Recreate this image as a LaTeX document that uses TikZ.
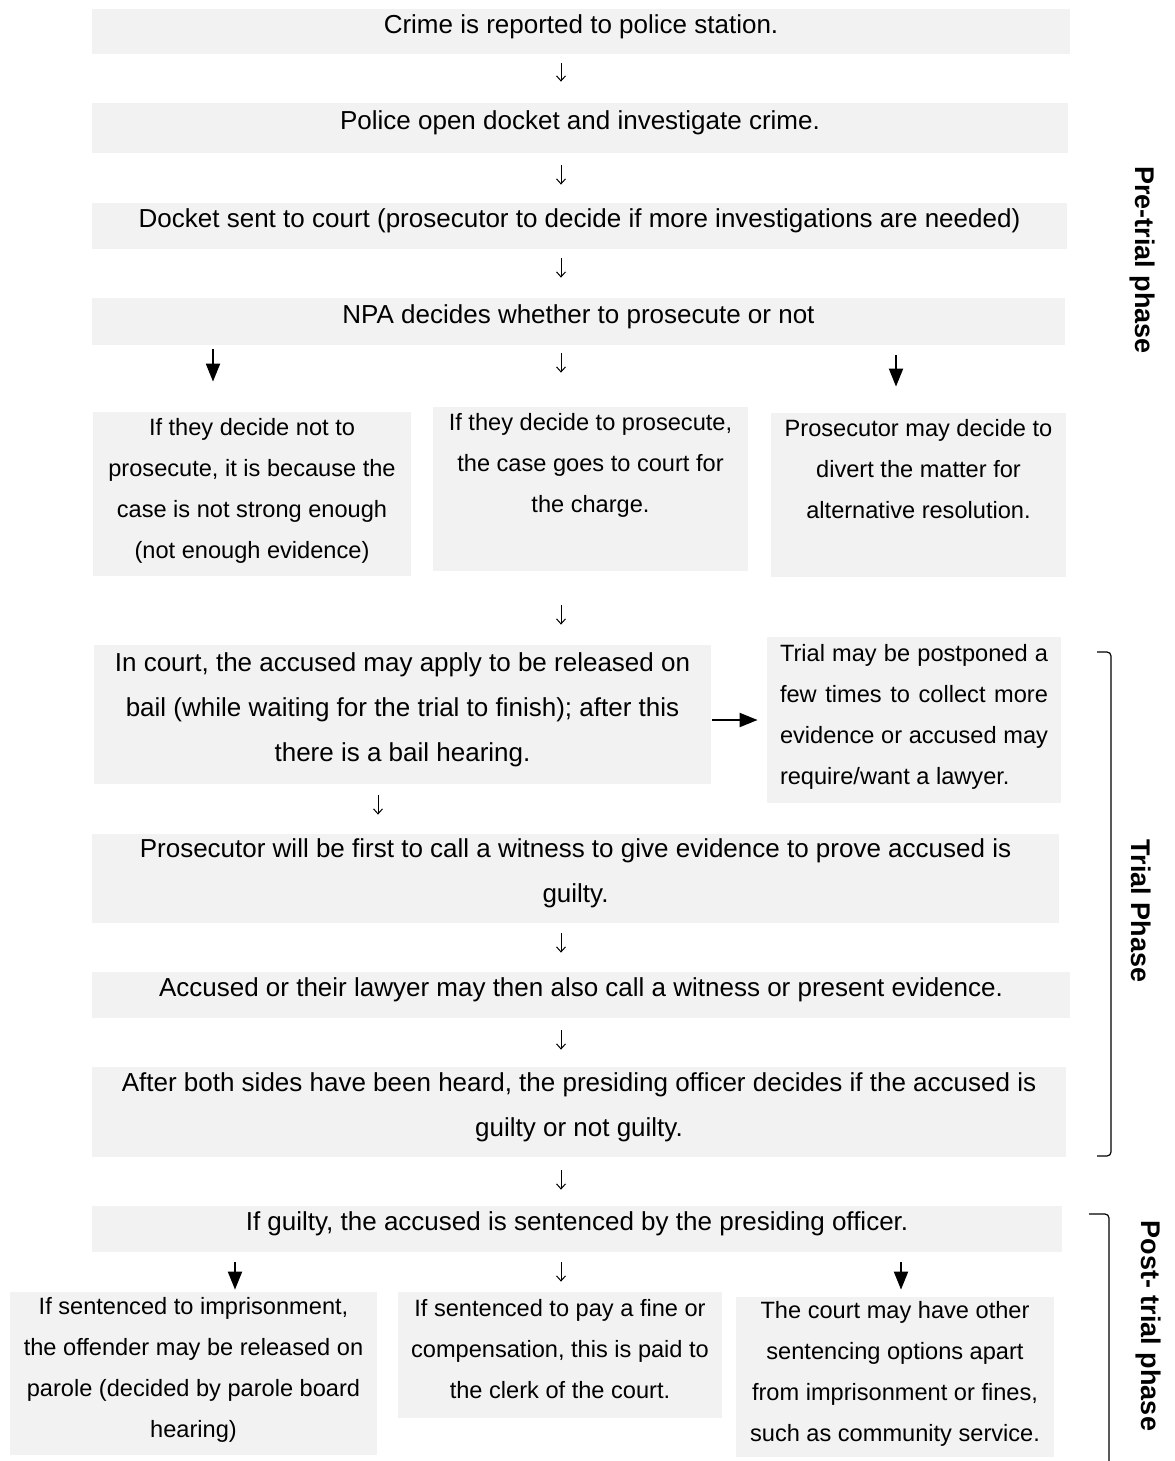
\documentclass[tikz,border=0pt]{standalone}
\usepackage{fontspec}
\setmainfont{Liberation Sans}
\usetikzlibrary{arrows.meta,calc}
\definecolor{boxgray}{RGB}{242,242,242}

\begin{document}
\begin{tikzpicture}[x=0.5pt, y=-0.5pt,
  flowbox/.style={fill=boxgray, inner sep=0pt, align=center, text depth=7.5pt, font=\fontsize{13}{22.5}\selectfont},
  sidebox/.style={flowbox, text depth=6pt, font=\fontsize{11.8}{20.5}\selectfont},
  thinarrow/.style 2 args={-{Straight Barb[length=2.5pt,width=4.5pt]}, line width=0.5pt, shorten <=#1, shorten >=#2},
  boldarrow/.style 2 args={-{Triangle[length=9pt,width=7pt]}, line width=1pt, shorten <=#1, shorten >=#2},
  phase/.style={font=\fontsize{13.5}{16}\selectfont\bfseries, rotate=-90},
  bracket/.style={line width=0.6pt, rounded corners=2pt}
]
\useasboundingbox (0,0) rectangle (1174,1461);
\coordinate (mid) at (561,0);
% Pre-trial boxes
\node[flowbox, minimum width=489pt, minimum height=22.5pt] (report) at (581,31.5)
  {Crime is reported to police station.};
\node[flowbox, minimum width=488pt, minimum height=25pt] (investigate) at (580,128)
  {Police open docket and investigate crime.};
\node[flowbox, minimum width=487.5pt, minimum height=23pt] (docket) at (579.5,226)
  {Docket sent to court (prosecutor to decide if more investigations are needed)};
\node[flowbox, minimum width=486.5pt, minimum height=23.5pt] (npa) at (578.5,321.5)
  {NPA decides whether to prosecute or not};
\node[sidebox, minimum width=159pt, minimum height=82pt] (noprosecute) at (252,494)
  {If they decide not to\\prosecute, it is because the\\case is not strong enough\\(not enough evidence)};
\node[sidebox, minimum width=157.5pt, minimum height=82pt] (prosecute) at (590.5,489)
  {If they decide to prosecute,\\the case goes to court for\\the charge.\\\mbox{}};
\node[sidebox, minimum width=147.5pt, minimum height=82pt] (divert) at (918.5,495)
  {Prosecutor may decide to\\divert the matter for\\alternative resolution.\\\mbox{}};
% Trial boxes
\node[flowbox, minimum width=308.5pt, minimum height=69.5pt] (bail) at (402.5,714.5)
  {In court, the accused may apply to be released on\\bail (while waiting for the trial to finish); after this\\there is a bail hearing.};
\node[sidebox, minimum width=147pt, minimum height=83pt, align=left] (postpone) at (914,720)
  {\makebox[134pt][s]{Trial may be postponed a}\\\makebox[134pt][s]{few times to collect more}\\\makebox[134pt][s]{evidence or accused may}\\require/want a lawyer.};
\node[flowbox, minimum width=483.5pt, minimum height=44.5pt] (statecase) at (575.5,878.5)
  {Prosecutor will be first to call a witness to give evidence to prove accused is\\guilty.};
\node[flowbox, minimum width=489pt, minimum height=23pt] (defence) at (581,995)
  {Accused or their lawyer may then also call a witness or present evidence.};
\node[flowbox, minimum width=487pt, minimum height=45pt] (verdict) at (579,1112)
  {After both sides have been heard, the presiding officer decides if the accused is\\guilty or not guilty.};
% Post-trial boxes
\node[flowbox, minimum width=485pt, minimum height=23pt] (sentence) at (577,1229)
  {If guilty, the accused is sentenced by the presiding officer.};
\node[sidebox, minimum width=183.5pt, minimum height=81.5pt] (prison) at (193.5,1373.5)
  {If sentenced to imprisonment,\\the offender may be released on\\parole (decided by parole board\\hearing)};
\node[sidebox, minimum width=162pt, minimum height=63pt] (fine) at (560,1355)
  {If sentenced to pay a fine or\\compensation, this is paid to\\the clerk of the court.};
\node[sidebox, minimum width=159pt, minimum height=80pt] (other) at (895,1377)
  {The court may have other\\sentencing options apart\\from imprisonment or fines,\\such as community service.};
% Arrows
\draw[thinarrow={4.5pt}{10.5pt}] (report.south -| mid) -- (investigate.north -| mid);
\draw[thinarrow={6pt}{9pt}] (investigate.south -| mid) -- (docket.north -| mid);
\draw[thinarrow={4.5pt}{10pt}] (docket.south -| mid) -- (npa.north -| mid);
\draw[boldarrow={2pt}{15pt}] (npa.south -| noprosecute.north) ++(-39,0) coordinate (npaL) (npaL) -- (npaL |- noprosecute.north);
\draw[thinarrow={4pt}{17pt}] (npa.south -| mid) -- (prosecute.north -| mid);
\draw[boldarrow={5pt}{13pt}] ($(npa.south -| divert.north)+(-22.5,0)$) coordinate (npaR) -- (npaR |- divert.north);
\draw[thinarrow={17pt}{10pt}] (prosecute.south -| mid) -- (bail.north -| mid);
\draw[boldarrow={0.5pt}{4.5pt}] (bail.east |- postpone.west) -- (postpone.west);
\draw[thinarrow={5.5pt}{9.5pt}] (bail.south -| 378,0) -- (statecase.north -| 378,0);
\draw[thinarrow={5pt}{9.5pt}] (statecase.south -| mid) -- (defence.north -| mid);
\draw[thinarrow={6pt}{8.5pt}] (defence.south -| mid) -- (verdict.north -| mid);
\draw[thinarrow={6.5pt}{8pt}] (verdict.south -| mid) -- (sentence.north -| mid);
\draw[boldarrow={5pt}{1pt}] (sentence.south -| 235,0) -- (prison.north -| 235,0);
\draw[thinarrow={5pt}{5pt}] (sentence.south -| mid) -- (fine.north -| mid);
\draw[boldarrow={5pt}{3.5pt}] (sentence.south -| 901,0) -- (other.north -| 901,0);
% Phase labels and brackets
\node[phase] (pretrial) at (1142,260) {Pre-trial phase};
\node[phase] (trial) at (1141,911) {Trial Phase};
\node[phase] (posttrial) at (1148,1326) {Post- trial phase};
\draw[bracket] (1097,652) -- (1111,652) -- (1111,1156) -- (1097,1156);
\draw[bracket] (1089,1214) -- (1109,1214) -- (1109,1470);
\end{tikzpicture}
\end{document}
